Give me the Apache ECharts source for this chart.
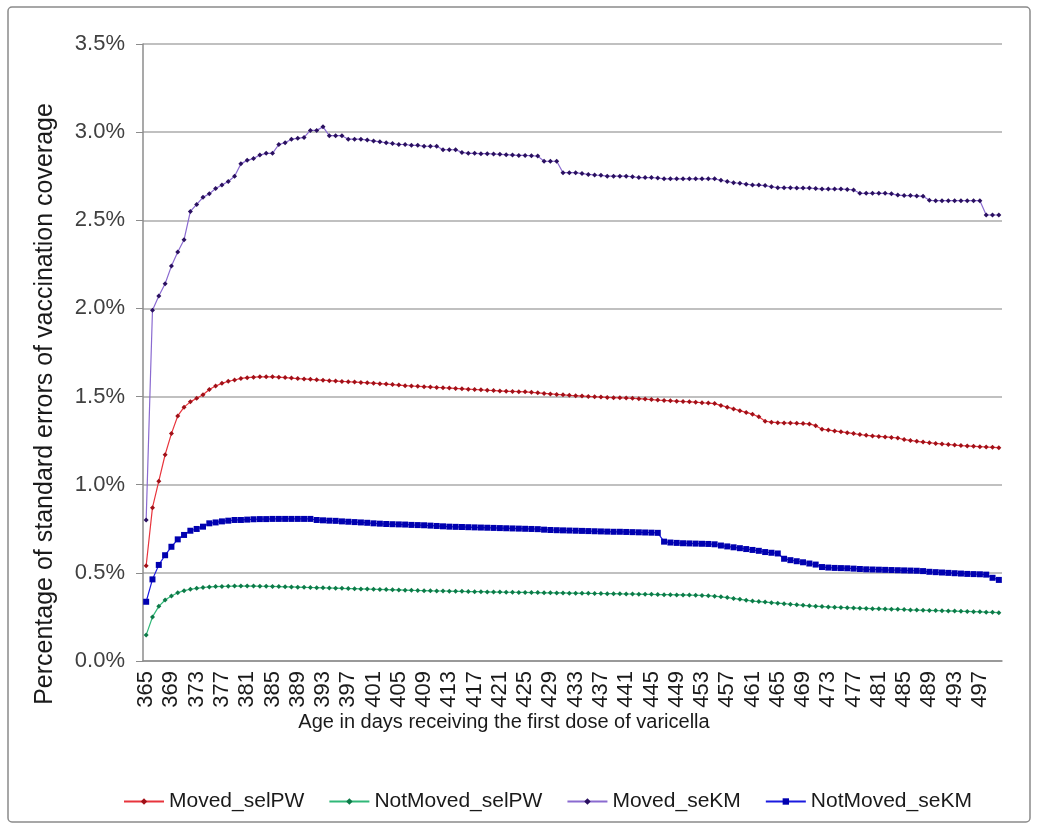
<!DOCTYPE html>
<html>
<head>
<meta charset="utf-8">
<script src="https://cdn.jsdelivr.net/npm/echarts@6/dist/echarts.min.js"></script>
<style>
  html, body { margin: 0; padding: 0; background: #ffffff; }
  #chart { width: 1038px; height: 828px; }
</style>
</head>
<body>
<div id="chart"></div>
<script>
// Age in days at first varicella dose: 365 .. 500
const firstDay = 365;
const lastDay = 500;
const days = [];
for (let d = firstDay; d <= lastDay; d++) days.push(String(d));

// Standard errors of vaccination coverage, in percent
const movedIPW = [
  0.54, 0.87, 1.02, 1.17, 1.29, 1.39, 1.44, 1.47, 1.49, 1.51,          // 365-374
  1.54, 1.56, 1.575, 1.587, 1.594, 1.603, 1.607, 1.61, 1.612, 1.612,   // 375-384
  1.612, 1.61, 1.608, 1.605, 1.602, 1.60, 1.598, 1.595, 1.593, 1.59,   // 385-394
  1.588, 1.586, 1.584, 1.582, 1.58, 1.578, 1.576, 1.573, 1.571, 1.568, // 395-404
  1.565, 1.562, 1.56, 1.558, 1.556, 1.554, 1.552, 1.55, 1.548, 1.546,  // 405-414
  1.544, 1.542, 1.54, 1.538, 1.536, 1.534, 1.532, 1.53, 1.529, 1.528,  // 415-424
  1.527, 1.524, 1.521, 1.518, 1.515, 1.512, 1.51, 1.507, 1.505, 1.503, // 425-434
  1.501, 1.499, 1.497, 1.495, 1.494, 1.493, 1.492, 1.49, 1.488, 1.486, // 435-444
  1.483, 1.48, 1.478, 1.476, 1.474, 1.472, 1.47, 1.468, 1.465, 1.463,  // 445-454
  1.46, 1.45, 1.44, 1.43, 1.42, 1.41, 1.40, 1.385, 1.36, 1.355,        // 455-464
  1.352, 1.35, 1.35, 1.348, 1.347, 1.345, 1.335, 1.315, 1.31, 1.305,   // 465-474
  1.30, 1.295, 1.29, 1.285, 1.28, 1.277, 1.274, 1.271, 1.268, 1.265,   // 475-484
  1.256, 1.251, 1.246, 1.242, 1.238, 1.234, 1.231, 1.228, 1.225, 1.222,// 485-494
  1.22, 1.218, 1.216, 1.214, 1.212, 1.21                               // 495-500
];

const notMovedIPW = [
  0.147, 0.25, 0.31, 0.346, 0.369, 0.387, 0.399, 0.407, 0.412, 0.417,  // 365-374
  0.42, 0.422, 0.423, 0.424, 0.425, 0.425, 0.425, 0.425, 0.424, 0.424, // 375-384
  0.423, 0.422, 0.421, 0.42, 0.419, 0.418, 0.417, 0.416, 0.415, 0.414, // 385-394
  0.413, 0.412, 0.411, 0.41, 0.409, 0.408, 0.407, 0.406, 0.405, 0.404, // 395-404
  0.403, 0.402, 0.401, 0.40, 0.399, 0.398, 0.397, 0.397, 0.396, 0.395, // 405-414
  0.395, 0.394, 0.393, 0.393, 0.392, 0.391, 0.391, 0.39, 0.39, 0.389,  // 415-424
  0.389, 0.388, 0.388, 0.387, 0.387, 0.386, 0.386, 0.385, 0.385, 0.384,// 425-434
  0.384, 0.383, 0.383, 0.382, 0.382, 0.381, 0.38, 0.38, 0.379, 0.378,  // 435-444
  0.378, 0.377, 0.376, 0.376, 0.375, 0.375, 0.374, 0.373, 0.372, 0.37, // 445-454
  0.368, 0.364, 0.36, 0.355, 0.35, 0.345, 0.34, 0.337, 0.334, 0.331,   // 455-464
  0.328, 0.325, 0.322, 0.319, 0.316, 0.313, 0.311, 0.309, 0.307, 0.305,// 465-474
  0.304, 0.302, 0.301, 0.299, 0.298, 0.297, 0.296, 0.295, 0.294, 0.293,// 475-484
  0.292, 0.29, 0.289, 0.288, 0.287, 0.286, 0.285, 0.284, 0.283, 0.282, // 485-494
  0.281, 0.28, 0.279, 0.277, 0.276, 0.274                              // 495-500
];

const movedKM = [
  0.80, 1.99, 2.07, 2.14, 2.24, 2.32, 2.39, 2.55, 2.59, 2.63,          // 365-374
  2.65, 2.68, 2.70, 2.72, 2.75, 2.82, 2.84, 2.85, 2.87, 2.88,          // 375-384
  2.88, 2.93, 2.94, 2.96, 2.965, 2.97, 3.01, 3.01, 3.03, 2.98,         // 385-394
  2.98, 2.98, 2.96, 2.96, 2.96, 2.955, 2.95, 2.945, 2.94, 2.935,       // 395-404
  2.93, 2.93, 2.925, 2.925, 2.92, 2.92, 2.92, 2.90, 2.90, 2.90,        // 405-414
  2.885, 2.88, 2.88, 2.878, 2.878, 2.876, 2.874, 2.872, 2.87, 2.868,   // 415-424
  2.868, 2.866, 2.864, 2.835, 2.835, 2.835, 2.77, 2.77, 2.77, 2.765,   // 425-434
  2.76, 2.757, 2.755, 2.75, 2.75, 2.75, 2.75, 2.747, 2.742, 2.742,     // 435-444
  2.742, 2.74, 2.735, 2.735, 2.735, 2.735, 2.735, 2.735, 2.735, 2.735, // 445-454
  2.735, 2.727, 2.72, 2.713, 2.71, 2.705, 2.70, 2.70, 2.697, 2.69,     // 455-464
  2.685, 2.685, 2.685, 2.683, 2.683, 2.683, 2.68, 2.677, 2.677, 2.677, // 465-474
  2.677, 2.675, 2.672, 2.653, 2.653, 2.653, 2.653, 2.653, 2.65, 2.643, // 475-484
  2.64, 2.64, 2.638, 2.636, 2.613, 2.611, 2.611, 2.611, 2.611, 2.611,  // 485-494
  2.611, 2.611, 2.611, 2.53, 2.53, 2.53                                // 495-500
];

const notMovedKM = [
  0.336, 0.463, 0.545, 0.60, 0.648, 0.69, 0.715, 0.739, 0.749, 0.762,  // 365-374
  0.781, 0.786, 0.792, 0.796, 0.80, 0.80, 0.802, 0.804, 0.805, 0.805,  // 375-384
  0.806, 0.806, 0.806, 0.806, 0.806, 0.806, 0.806, 0.80, 0.798, 0.796, // 385-394
  0.795, 0.792, 0.79, 0.788, 0.786, 0.784, 0.781, 0.779, 0.777, 0.776, // 395-404
  0.775, 0.774, 0.772, 0.771, 0.77, 0.768, 0.766, 0.764, 0.762, 0.761, // 405-414
  0.76, 0.759, 0.758, 0.757, 0.756, 0.755, 0.754, 0.753, 0.752, 0.751, // 415-424
  0.75, 0.749, 0.748, 0.745, 0.743, 0.742, 0.741, 0.74, 0.739, 0.738,  // 425-434
  0.737, 0.736, 0.735, 0.734, 0.733, 0.733, 0.732, 0.731, 0.73, 0.729, // 435-444
  0.728, 0.727, 0.677, 0.672, 0.67, 0.668, 0.667, 0.666, 0.665, 0.664, // 445-454
  0.662, 0.655, 0.65, 0.645, 0.64, 0.635, 0.63, 0.625, 0.618, 0.614,   // 455-464
  0.61, 0.58, 0.572, 0.566, 0.56, 0.553, 0.547, 0.533, 0.53, 0.528,    // 465-474
  0.527, 0.526, 0.524, 0.522, 0.52, 0.519, 0.518, 0.517, 0.516, 0.515, // 475-484
  0.514, 0.513, 0.512, 0.51, 0.506, 0.504, 0.502, 0.50, 0.498, 0.496,  // 485-494
  0.494, 0.493, 0.492, 0.49, 0.472, 0.46                               // 495-500
];

const yTicks = [0, 0.5, 1.0, 1.5, 2.0, 2.5, 3.0, 3.5];

const FONT = '"Liberation Sans", Arial, sans-serif';
const chart = echarts.init(document.getElementById('chart'), null, { renderer: 'canvas' });

function lineSeries(name, data, lineColor, markColor, symbol, size) {
  return {
    name: name,
    type: 'line',
    data: data,
    symbol: symbol,
    symbolSize: size,
    showAllSymbol: true,
    animation: false,
    lineStyle: { color: lineColor, width: 1.2 },
    itemStyle: { color: markColor, borderColor: markColor, borderWidth: 0 },
    emphasis: { disabled: true }
  };
}

chart.setOption({
  backgroundColor: '#ffffff',
  animation: false,
  textStyle: { fontFamily: FONT },
  grid: { left: 143, right: 36, top: 44, bottom: 167, containLabel: false },
  legend: {
    left: 118,
    top: 786,
    itemWidth: 40,
    itemHeight: 8,
    itemGap: 24,
    textStyle: { fontSize: 21, color: '#1a1a1a', fontFamily: FONT },
    data: ['Moved_selPW', 'NotMoved_selPW', 'Moved_seKM', 'NotMoved_seKM']
  },
  xAxis: {
    type: 'category',
    data: days,
    boundaryGap: true,
    axisLine: { lineStyle: { color: '#8c8c8c', width: 1.5 } },
    axisTick: { interval: 0, length: 6, lineStyle: { color: '#8c8c8c', width: 1 } },
    axisLabel: {
      interval: 3,
      rotate: 90,
      margin: 10,
      fontSize: 22,
      color: '#1a1a1a',
      fontFamily: FONT
    },
    splitLine: { show: false }
  },
  yAxis: {
    type: 'value',
    min: yTicks[0],
    max: yTicks[yTicks.length - 1],
    interval: 0.5,
    axisLine: { show: true, lineStyle: { color: '#8c8c8c', width: 1.5 } },
    axisTick: { show: true, length: 7, lineStyle: { color: '#8c8c8c', width: 1 } },
    axisLabel: {
      margin: 18,
      fontSize: 22,
      color: '#404040',
      fontFamily: FONT,
      formatter: function (v) { return v.toFixed(1) + '%'; }
    },
    splitLine: { show: true, lineStyle: { color: '#ababab', width: 1.5 } }
  },
  series: [
    lineSeries('Moved_selPW', movedIPW, '#e8343c', '#a01018', 'diamond', 5),
    lineSeries('NotMoved_selPW', notMovedIPW, '#30b878', '#0d7a48', 'diamond', 5),
    lineSeries('Moved_seKM', movedKM, '#8a6ad0', '#2a1060', 'diamond', 5),
    lineSeries('NotMoved_seKM', notMovedKM, '#1a1ae0', '#0000b0', 'rect', 6)
  ],
  graphic: [
    {
      type: 'rect',
      shape: { x: 8, y: 7, width: 1022, height: 815, r: 4 },
      style: { fill: 'none', stroke: '#8a8a8a', lineWidth: 1.5 },
      silent: true
    },
    {
      type: 'text',
      x: 45,
      y: 404,
      rotation: Math.PI / 2,
      style: {
        text: 'Percentage of standard errors of vaccination coverage',
        fontSize: 25,
        fontFamily: FONT,
        fill: '#1a1a1a',
        align: 'center',
        verticalAlign: 'middle'
      },
      silent: true
    },
    {
      type: 'text',
      x: 504,
      y: 722,
      style: {
        text: 'Age in days receiving the first dose of varicella',
        fontSize: 20,
        fontFamily: FONT,
        fill: '#1a1a1a',
        align: 'center',
        verticalAlign: 'middle'
      },
      silent: true
    }
  ]
});
</script>
</body>
</html>
